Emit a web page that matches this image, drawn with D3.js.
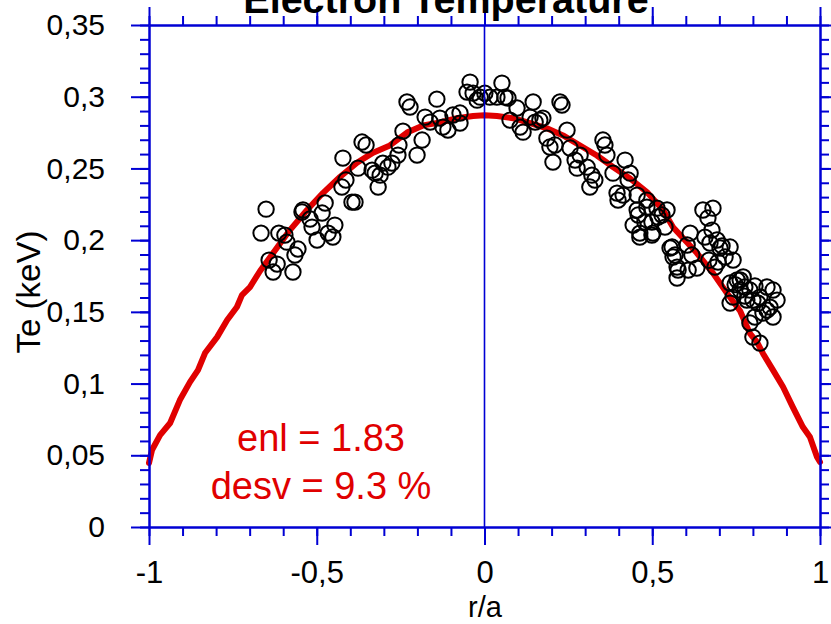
<!DOCTYPE html>
<html>
<head>
<meta charset="utf-8">
<script src="https://cdn.jsdelivr.net/npm/d3@7"></script>
<style>
  body { margin: 0; background: #fff; }
  text { font-family: "Liberation Sans", Arial, sans-serif; }
</style>
</head>
<body>
<div id="chart"></div>
<script>
// Measured profile (circles): r/a, Te (keV)
var measR = [
  -0.651,-0.666,-0.613,-0.595,-0.589,-0.556,-0.565,-0.642,-0.618,-0.630,-0.571,
  -0.541,-0.544,-0.520,-0.514,-0.499,-0.484,-0.475,-0.466,-0.446,-0.452,
  -0.422,-0.425,-0.413,-0.395,-0.386,-0.365,-0.353,-0.377,-0.335,-0.326,-0.317,
  -0.311,-0.303,-0.288,-0.276,-0.258,-0.255,-0.243,-0.201,-0.186,-0.231,-0.222,
  -0.142,-0.177,-0.162,-0.133,-0.124,-0.109,-0.094,-0.073,-0.073,-0.043,-0.052,
  -0.034,-0.022,-0.013,0.001,
  0.016,0.052,0.037,0.061,0.070,0.097,0.076,0.106,0.115,0.145,0.136,0.151,0.165,
  0.174,0.225,0.231,0.186,0.195,0.210,0.204,0.246,0.255,0.270,0.276,0.285,0.306,
  0.320,0.329,0.314,0.353,0.359,0.365,0.383,0.395,0.398,0.419,0.434,0.428,0.413,
  0.455,0.443,0.463,0.484,0.499,0.502,0.517,0.529,0.544,0.559,0.562,0.574,0.574,
  0.455,0.484,0.458,0.478,0.463,0.499,0.514,0.538,0.553,0.568,0.577,0.613,0.604,
  0.618,0.633,0.607,0.651,0.681,0.666,0.678,0.657,0.693,0.702,0.717,0.696,0.732,
  0.741,0.687,0.732,0.753,0.771,0.776,0.762,0.791,0.741,0.732,0.782,0.800,0.821,
  0.842,0.860,0.872,0.851,0.830,0.860,0.806,0.791,0.800,0.821,0.842,
  0.762,0.776,0.806,0.747,0.815,0.672,0.708,0.669
];
var measTe = [
  0.2216,0.2049,0.2049,0.2035,0.1986,0.1938,0.1896,0.1861,0.1833,0.1778,0.1778,
  0.2210,0.2196,0.2147,0.2091,0.2001,0.2189,0.2259,0.2049,0.2105,0.2022,
  0.2572,0.2370,0.2419,0.2265,0.2265,0.2684,0.2663,0.2502,0.2488,0.2467,0.2370,
  0.2453,0.2537,0.2509,0.2537,0.2593,0.2663,0.2760,0.2593,0.2698,0.2963,0.2928,
  0.2983,0.2858,0.2823,0.2851,0.2788,0.2767,0.2872,0.2886,0.2816,0.3102,0.3032,
  0.3025,0.2976,0.2997,0.3025,
  0.2997,0.3095,0.2997,0.2997,0.2990,0.2921,0.2837,0.2788,0.2753,0.2963,0.2858,0.2823,0.2837,
  0.2851,0.2963,0.2942,0.2711,0.2649,0.2663,0.2544,0.2767,0.2642,0.2558,0.2502,0.2593,0.2509,
  0.2453,0.2419,0.2370,0.2698,0.2663,0.2593,0.2467,0.2328,0.2279,0.2558,0.2467,0.2419,0.2314,
  0.2210,0.2105,0.2049,0.2230,0.2126,0.2049,0.2161,0.2175,0.2210,0.1952,0.1882,0.1812,0.1736,
  0.2314,0.2279,0.2175,0.2126,0.2021,0.2035,0.2223,0.2091,0.1945,0.1896,0.1791,0.2049,0.1966,
  0.1896,0.1805,0.1791,0.2210,0.2223,0.2154,0.2070,0.2021,0.2001,0.1945,0.1882,0.1847,0.1952,
  0.1861,0.1812,0.1701,0.1722,0.1743,0.1673,0.1652,0.1652,0.1603,0.1561,0.1582,0.1582,0.1603,
  0.1673,0.1652,0.1582,0.1533,0.1492,0.1464,0.1464,0.1422,0.1324,0.1282,0.1512,
  0.1722,0.1610,0.1680,0.1690,0.1560,0.1980,0.1960,0.1860
];

// Fitted profile (red curve)
var fitR = [
  -1.0,-0.991,-0.967,-0.937,-0.908,-0.878,-0.854,-0.833,-0.797,-0.767,-0.738,-0.723,
  -0.699,-0.669,-0.630,-0.580,-0.529,-0.481,-0.431,-0.380,-0.332,-0.282,-0.231,-0.183,
  -0.133,-0.082,-0.034,0.0,0.037,0.085,0.136,0.186,0.234,0.285,0.335,0.383,0.434,
  0.484,0.532,0.562,0.633,0.681,0.723,0.762,0.791,0.812,0.830,0.860,0.890,0.919,
  0.949,0.970,0.991,1.0
];
var fitTe = [
  0.0446,0.0537,0.0641,0.0725,0.0885,0.1010,0.1094,0.1213,0.1324,0.1443,0.1534,0.1617,
  0.1673,0.1785,0.1910,0.2070,0.2210,0.2330,0.2440,0.2540,0.2610,0.2660,0.2750,0.2800,
  0.2820,0.2850,0.2865,0.2870,0.2865,0.2850,0.2816,0.2780,0.2730,0.2660,0.2590,0.2510,0.2430,
  0.2335,0.2210,0.2090,0.1910,0.1770,0.1630,0.1506,0.1350,0.1290,0.1210,0.1094,0.0976,0.0836,
  0.0697,0.0627,0.0488,0.0453
];

var xTicks = [-1, -0.5, 0, 0.5, 1];
var xTickLabels = ["-1", "-0,5", "0", "0,5", "1"];
var yTicks = [0, 0.05, 0.1, 0.15, 0.2, 0.25, 0.3, 0.35];
var yTickLabels = ["0", "0,05", "0,1", "0,15", "0,2", "0,25", "0,3", "0,35"];
var fitNotes = ["enl = 1.83", "desv = 9.3 %"];

var W = 831, H = 624;
var margin = { top: 25, right: 11, bottom: 97, left: 149 };
var width = W - margin.left - margin.right,
    height = H - margin.top - margin.bottom;

var blue = "#0000d4", red = "#e00000";

var svg = d3.select("#chart").append("svg")
    .attr("width", W)
    .attr("height", H);

var g = svg.append("g")
    .attr("transform", "translate(" + margin.left + "," + margin.top + ")");

var x = d3.scaleLinear().domain([-1, 1]).range([0, width]);
var y = d3.scaleLinear().domain([0, 0.35]).range([height, 0]);

var xMinor = d3.range(-10, 11).map(function(i) { return i / 10; });
var yMinor = d3.range(0, 36).map(function(i) { return i / 100; });

// fitted curve
var line = d3.line()
    .x(function(d, i) { return x(fitR[i]); })
    .y(function(d, i) { return y(fitTe[i]); });

g.append("path")
    .datum(fitR)
    .attr("d", line)
    .attr("fill", "none")
    .attr("stroke", red)
    .attr("stroke-width", 6)
    .attr("stroke-linejoin", "round")
    .attr("stroke-linecap", "round");

// measured points
g.append("g").selectAll("circle")
    .data(measR)
    .enter().append("circle")
    .attr("cx", function(d) { return x(d); })
    .attr("cy", function(d, i) { return y(measTe[i]); })
    .attr("r", 7.7)
    .attr("fill", "none")
    .attr("stroke", "#000")
    .attr("stroke-width", 2);

// axes: minor and major ticks on all four sides, pointing outward
function styleAxis(sel) {
    sel.selectAll("path, line").attr("stroke", blue).attr("stroke-width", 2);
    sel.selectAll("text").attr("fill", "#000").attr("font-size", 30);
}

function addAxis(axisFn, scale, transform, minor, major, labels) {
    var minorAxis = axisFn(scale).tickValues(minor).tickSize(9).tickSizeOuter(0).tickFormat("");
    g.append("g").attr("transform", transform).call(minorAxis).call(styleAxis);
    var majorAxis = axisFn(scale).tickValues(major).tickSize(18).tickSizeOuter(0)
        .tickFormat(labels ? function(d, i) { return labels[i]; } : "");
    return g.append("g").attr("transform", transform).call(majorAxis).call(styleAxis);
}

var xb = addAxis(d3.axisBottom, x, "translate(0," + height + ")", xMinor, xTicks, xTickLabels);
xb.selectAll("text").attr("y", 34).attr("dy", "0.71em").attr("font-size", 31);
addAxis(d3.axisTop, x, "translate(0,0)", xMinor, xTicks, null);
var yl = addAxis(d3.axisLeft, y, "translate(0,0)", yMinor, yTicks, yTickLabels);
yl.selectAll("text").attr("x", -44);
addAxis(d3.axisRight, y, "translate(" + width + ",0)", yMinor, yTicks, null);

// zero line
g.append("line")
    .attr("x1", x(0)).attr("x2", x(0))
    .attr("y1", 0).attr("y2", height)
    .attr("stroke", blue)
    .attr("stroke-width", 1.6);

// titles
svg.append("text")
    .attr("x", 446).attr("y", 13)
    .attr("text-anchor", "middle")
    .attr("font-size", 39.5)
    .attr("font-weight", "bold")
    .text("Electron Temperature");

svg.append("text")
    .attr("x", 485).attr("y", 617)
    .attr("text-anchor", "middle")
    .attr("font-size", 29)
    .text("r/a");

svg.append("text")
    .attr("transform", "translate(40," + 292 + ") rotate(-90)")
    .attr("text-anchor", "middle")
    .attr("font-size", 33)
    .text("Te (keV)");

// fit annotations
svg.append("g").selectAll("text")
    .data(fitNotes)
    .enter().append("text")
    .attr("x", 321)
    .attr("y", function(d, i) { return 451 + i * 48; })
    .attr("text-anchor", "middle")
    .attr("font-size", 38)
    .attr("fill", red)
    .text(function(d) { return d; });
</script>
</body>
</html>
